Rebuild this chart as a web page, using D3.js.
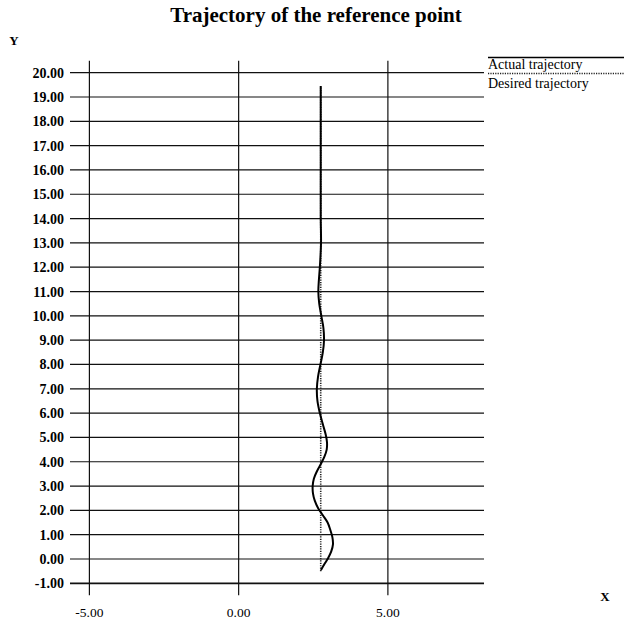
<!DOCTYPE html>
<html>
<head>
<meta charset="utf-8">
<script src="https://cdn.jsdelivr.net/npm/d3@7"></script>
<style>
  body { margin: 0; background: #fff; }
  svg { display: block; font-family: "Liberation Serif", "Times New Roman", serif; }
</style>
</head>
<body>
<div id="chart"></div>
<script>
// ---------------------------------------------
// data
// ---------------------------------------------
const yTicks = [-1, 0, 1, 2, 3, 4, 5, 6, 7, 8, 9, 10, 11, 12, 13, 14, 15, 16, 17, 18, 19, 20];
const xTicks = [-5, 0, 5];

// actual trajectory (x, y) of the reference point
const actualY = [-0.45, -0.2, 0.0, 0.3, 0.6, 0.9, 1.2, 1.5, 1.8, 2.1, 2.4, 2.7, 3.0, 3.3, 3.6, 3.9,
                 4.2, 4.5, 4.8, 5.1, 5.5, 6.0, 6.5, 7.0, 7.5, 8.0, 8.5, 9.0, 9.5, 10.0, 10.5,
                 11.0, 11.5, 12.0, 13.0, 14.0, 16.0, 18.0, 19.45];
const actualX = [2.76, 2.88, 2.98, 3.10, 3.16, 3.14, 3.07, 2.98, 2.82, 2.66, 2.55, 2.49, 2.48, 2.52, 2.62, 2.75,
                 2.87, 2.95, 2.96, 2.92, 2.83, 2.72, 2.64, 2.62, 2.66, 2.74, 2.82, 2.86, 2.84, 2.77, 2.70,
                 2.67, 2.69, 2.72, 2.76, 2.75, 2.75, 2.75, 2.75];

// desired trajectory: straight line
const desiredY = [-0.5, 19.45];
const desiredX = [2.75, 2.75];

const legendLabels = ["Actual trajectory", "Desired trajectory"];

// ---------------------------------------------
// chart
// ---------------------------------------------
const width = 624, height = 622;

const x = d3.scaleLinear().domain([-5.65, 8.22]).range([70, 484]);
const y = d3.scaleLinear().domain([-1, 20]).range([583.3, 72.7]);

const svg = d3.select("#chart").append("svg")
    .attr("width", width)
    .attr("height", height);

svg.append("text")
    .attr("x", 316).attr("y", 21.5)
    .attr("text-anchor", "middle")
    .style("font-size", "21px").style("font-weight", "bold")
    .text("Trajectory of the reference point");

// horizontal grid lines
const grid = svg.append("g").attr("stroke", "#111");
grid.selectAll(".h")
    .data(yTicks)
  .enter().append("line")
    .attr("x1", x.range()[0]).attr("x2", x.range()[1])
    .attr("y1", d => y(d)).attr("y2", d => y(d))
    .attr("stroke-width", d => d === -1 ? 1.8 : 1.2);

// vertical grid lines
grid.selectAll(".v")
    .data(xTicks)
  .enter().append("line")
    .attr("x1", d => x(d)).attr("x2", d => x(d))
    .attr("y1", y(20) - 12).attr("y2", y(-1) + 12)
    .attr("stroke-width", 1.2);

// y labels
svg.append("g").selectAll("text")
    .data(yTicks)
  .enter().append("text")
    .attr("x", 64).attr("y", d => y(d) + 5)
    .attr("text-anchor", "end")
    .style("font-size", "14px").style("font-weight", "bold")
    .text(d => d.toFixed(2));

// x labels
svg.append("g").selectAll("text")
    .data(xTicks)
  .enter().append("text")
    .attr("x", d => x(d)).attr("y", 617)
    .attr("text-anchor", "middle")
    .style("font-size", "13.5px")
    .text(d => d.toFixed(2));

// axis names
svg.append("text").attr("x", 14).attr("y", 45)
    .attr("text-anchor", "middle")
    .style("font-size", "13px").style("font-weight", "bold").text("Y");
svg.append("text").attr("x", 605).attr("y", 601)
    .attr("text-anchor", "middle")
    .style("font-size", "13px").style("font-weight", "bold").text("X");

// trajectories
const line = d3.line()
    .x(d => x(d[0]))
    .y(d => y(d[1]))
    .curve(d3.curveCatmullRom);

svg.append("path")
    .datum(desiredX.map((v, i) => [v, desiredY[i]]))
    .attr("d", line)
    .attr("fill", "none")
    .attr("stroke", "#222")
    .attr("stroke-width", 1.6)
    .attr("stroke-dasharray", "1.2,1.2");

svg.append("path")
    .datum(actualX.map((v, i) => [v, actualY[i]]))
    .attr("d", line)
    .attr("fill", "none")
    .attr("stroke", "#000")
    .attr("stroke-width", 2);

// legend
const legend = svg.append("g");
legend.append("line")
    .attr("x1", 488).attr("x2", 624).attr("y1", 57.5).attr("y2", 57.5)
    .attr("stroke", "#000").attr("stroke-width", 1.5);
legend.append("line")
    .attr("x1", 488).attr("x2", 624).attr("y1", 73.5).attr("y2", 73.5)
    .attr("stroke", "#222").attr("stroke-width", 1.6)
    .attr("stroke-dasharray", "1.2,1.2");
legend.selectAll("text")
    .data(legendLabels)
  .enter().append("text")
    .attr("x", 488).attr("y", (d, i) => 69 + i * 19)
    .style("font-size", "14px")
    .text(d => d);
</script>
</body>
</html>
